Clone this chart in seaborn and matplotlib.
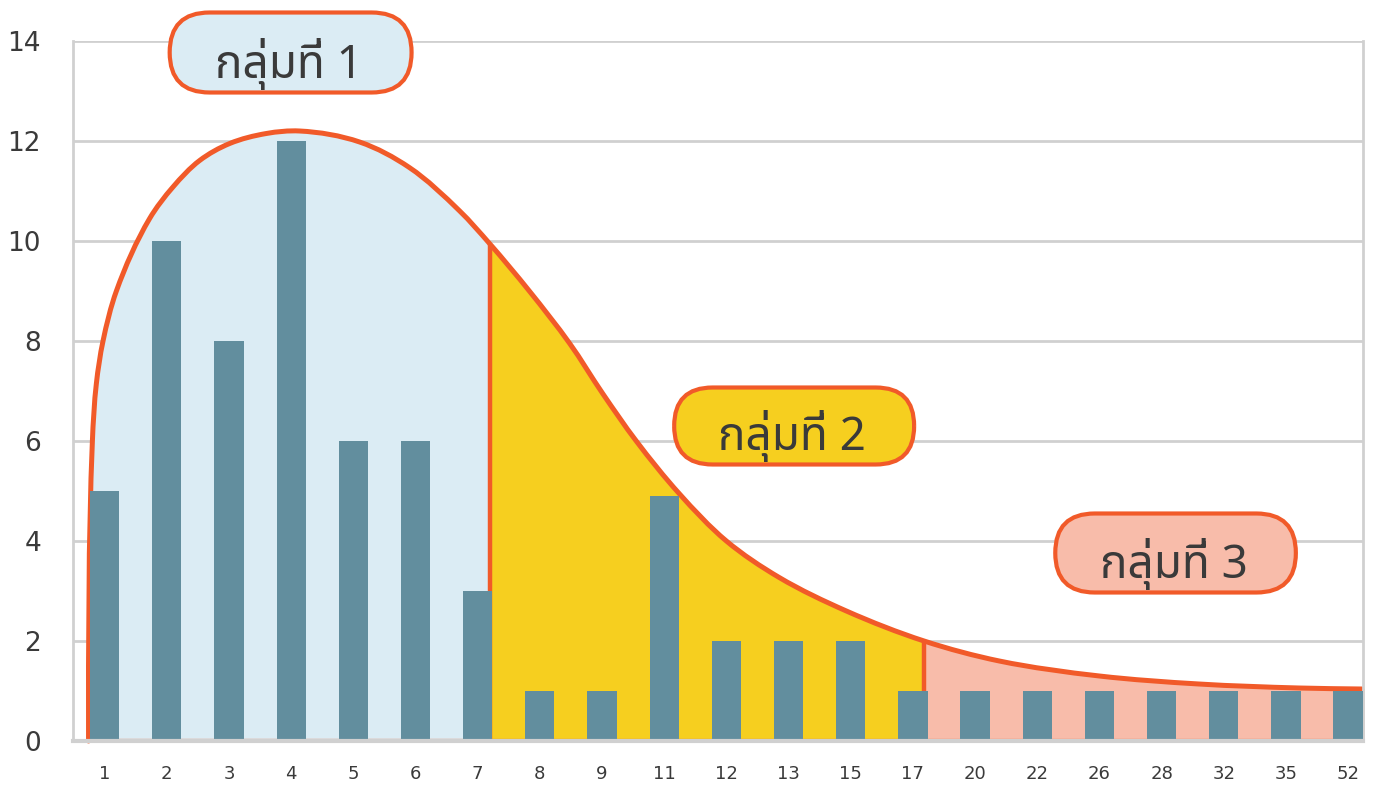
import numpy as np
import pandas as pd
import seaborn as sns
import matplotlib.pyplot as plt
from matplotlib import font_manager
from matplotlib.patches import FancyBboxPatch, PathPatch
from matplotlib.path import Path

# categories and bar heights
categories = ["1", "2", "3", "4", "5", "6", "7", "8", "9", "11", "12",
              "13", "15", "17", "20", "22", "26", "28", "32", "35", "52"]
counts = [5, 10, 8, 12, 6, 6, 3, 1, 1, 4.9, 2, 2, 2, 1, 1, 1, 1, 1, 1, 1, 1]

# envelope (x in bar-index units)
curve_x = [-0.26, -0.198, -0.134, -0.027, 0.188, 0.723, 1.098, 1.527,
           2.010, 2.60, 3.135, 4.10, 4.90, 5.71, 6.19, 6.83, 7.48, 8.01, 8.55,
           9.24, 10.0, 10.85, 11.93, 13.18, 14.39, 16.0, 17.6, 19.21, 20.22]
curve_y = [0, 6.0, 7.15, 8.0, 9.0, 10.45, 11.08, 11.61,
           11.95, 12.15, 12.20, 11.98, 11.47, 10.6, 9.95, 9.0, 7.95, 6.95, 6.0,
           4.95, 4.0, 3.27, 2.6, 2.0, 1.6, 1.30, 1.14, 1.06, 1.04]

group_names = ["กลุ่มที่ 1", "กลุ่มที่ 2", "กลุ่มที่ 3"]
group_split = [0, 14, 23, 28]  # indices into curve points where groups change
group_colors = ["#dbecf4", "#f6cf1f", "#f8bcaa"]

ORANGE = "#f15a29"
BAR = "#628e9e"
GRID = "#d0d0d0"
TEXT = "#3a3a3a"
PX_X, PX_Y = 62.2, 50.0  # pixels per data unit, used to keep the curve isotropic


def find_thai_font():
    try:
        from fontTools.ttLib import TTFont
    except ImportError:
        return None
    found = []
    for f in font_manager.fontManager.ttflist:
        try:
            tt = TTFont(f.fname, fontNumber=0, lazy=True)
            cmap = tt.getBestCmap()
            if cmap and 0x0E01 in cmap and 0x0E38 in cmap and 0x0E48 in cmap:
                found.append(f.name)
        except Exception:
            pass
    found = sorted(set(found), key=lambda n: (0 if "Noto" in n else 1, n))
    return found[0] if found else None


thai = find_thai_font()

sns.set_style("white")
plt.rcParams["font.family"] = ["DejaVu Sans"]
label_family = [thai, "DejaVu Sans"] if thai else ["DejaVu Sans"]


def unit(v):
    return v / np.hypot(*v)


def smooth_path(xs, ys):
    # cubic Bezier through the read points; tangent = bisector of the two
    # neighbouring chord directions, handles a third of each chord (pixel space)
    pts = np.column_stack([np.array(xs) * PX_X, np.array(ys) * PX_Y])
    n = len(pts)
    tang = [np.array([0.0, 1.0])]  # rises straight up from the baseline
    for i in range(1, n - 1):
        tang.append(unit(unit(pts[i] - pts[i - 1]) + unit(pts[i + 1] - pts[i])))
    tang.append(unit(pts[-1] - pts[-2]))
    verts = [pts[0]]
    codes = [Path.MOVETO]
    for i in range(n - 1):
        L = np.hypot(*(pts[i + 1] - pts[i])) / 3
        verts += [pts[i] + tang[i] * L, pts[i + 1] - tang[i + 1] * L, pts[i + 1]]
        codes += [Path.CURVE4] * 3
    verts = np.array(verts) / [PX_X, PX_Y]
    return verts, codes


fig = plt.figure(figsize=(13.73, 7.85), dpi=100)
ax = fig.add_axes([73 / 1373, 1 - 741 / 785, 1290 / 1373, 700 / 785])

verts, codes = smooth_path(curve_x, curve_y)

# shaded groups under the curve
for g, col in enumerate(group_colors):
    a, b = group_split[g], group_split[g + 1]
    seg_v = verts[3 * a:3 * b + 1]
    seg_c = [Path.MOVETO] + [Path.CURVE4] * (len(seg_v) - 1)
    v = np.vstack([[curve_x[a], 0], seg_v, [curve_x[b], 0], [curve_x[a], 0]])
    c = [Path.MOVETO, Path.LINETO] + seg_c[1:] + [Path.LINETO, Path.CLOSEPOLY]
    ax.add_patch(PathPatch(Path(v, c), fc=col, lw=0, zorder=1, clip_on=False))

# outline
ax.add_patch(PathPatch(Path(verts, codes), fc="none", ec=ORANGE, lw=3.6,
                       zorder=2, clip_on=False, capstyle="round"))
ax.plot([curve_x[0], curve_x[-1]], [0.03, 0.03], color=ORANGE, lw=1.6, zorder=2)
for k in group_split[1:]:
    ax.vlines(curve_x[k], 0, curve_y[k], color=ORANGE, lw=3.2, zorder=2, clip_on=False)

# bars
df = pd.DataFrame({"cat": categories, "n": counts})
sns.barplot(data=df, x="cat", y="n", color=BAR, saturation=1, width=0.47,
            ax=ax, zorder=3, linewidth=0, edgecolor="none")

ax.set_xlim(-0.51, 20.24)
ax.set_ylim(0, 14)
ax.set_yticks(range(0, 15, 2))
ax.set_xlabel("")
ax.set_ylabel("")

ax.grid(axis="y", color=GRID, lw=2, zorder=0)
ax.set_axisbelow(True)
ax.spines["top"].set_visible(False)
for s in ["left", "right", "bottom"]:
    ax.spines[s].set_color(GRID)
    ax.spines[s].set_linewidth(2)
ax.spines["bottom"].set_linewidth(3)
ax.spines["bottom"].set_zorder(4)

ax.tick_params(axis="y", length=13, width=1.5, color=GRID, pad=10,
               labelsize=19, labelcolor=TEXT)
ax.tick_params(axis="x", which="major", length=0, pad=17,
               labelsize=13, labelcolor=TEXT)
minor = [k + 0.5 for k in range(-1, 20) if k not in (6, 13)] + [20.24]
ax.set_xticks(minor, minor=True)
ax.tick_params(axis="x", which="minor", length=12, width=1.5, color=GRID)

# group labels in rounded boxes
boxes = [(1.045, 12.97, 4.936, 14.57), (9.16, 5.53, 13.02, 7.07), (15.29, 2.97, 19.16, 4.55)]
for name, col, (x0, y0, x1, y1) in zip(group_names, group_colors, boxes):
    h = y1 - y0
    p = FancyBboxPatch((x0, y0), x1 - x0, h,
                       boxstyle=f"round,pad=0,rounding_size={h / 2 * PX_Y / PX_X:.3f}",
                       mutation_aspect=PX_X / PX_Y, fc=col, ec=ORANGE, lw=3,
                       zorder=5, clip_on=False)
    ax.add_patch(p)
    ax.text((x0 + x1) / 2 - 0.03, y0 + 0.28, name, ha="center", va="baseline",
            fontsize=33, color=TEXT, zorder=6, clip_on=False, family=label_family)

fig.savefig("out.png", dpi=100)
